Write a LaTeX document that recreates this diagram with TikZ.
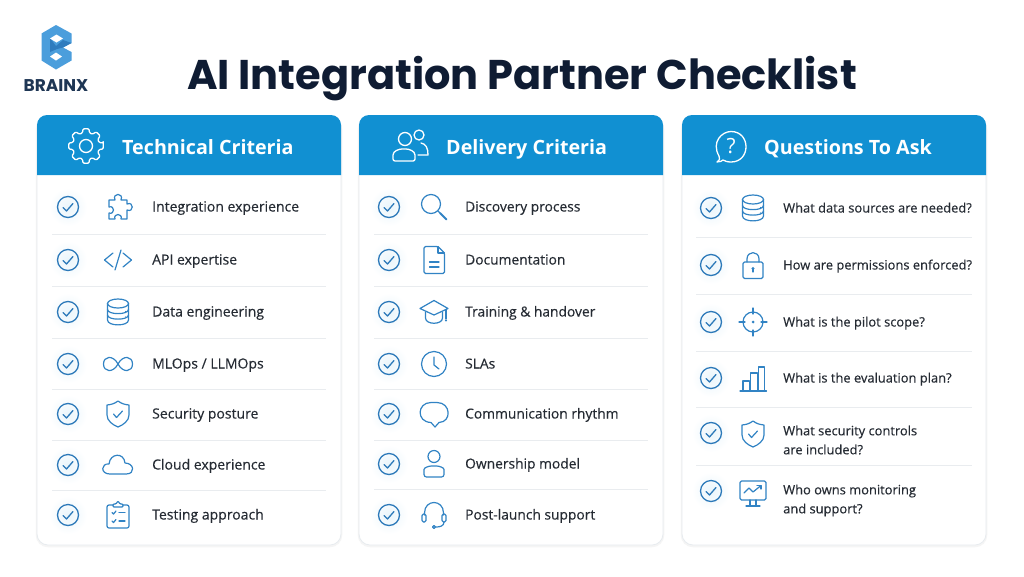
\documentclass[tikz,border=0pt]{standalone}
\usepackage{fontspec}
\setmainfont{Open Sans}
\newfontfamily\titlefont{Poppins}
\newfontfamily\rowfont[RawFeature={embolden=0.35}]{Open Sans}
\usetikzlibrary{positioning}

\definecolor{headblue}{HTML}{1190D2}
\definecolor{iconblue}{HTML}{3183C4}
\definecolor{checkblue}{HTML}{2C79B9}
\definecolor{inkdark}{HTML}{0F1C33}
\definecolor{rowink}{HTML}{252B33}
\definecolor{rulegrey}{HTML}{E9ECEF}
\definecolor{cardedge}{HTML}{E7EBEF}
\definecolor{logoblue}{HTML}{4B9EDC}
\definecolor{logodark}{HTML}{2F7CBE}
\definecolor{logoink}{HTML}{1E3654}

\tikzset{
  icon/.style={draw=iconblue,line width=1.2pt,line join=round,line cap=round},
  whiteicon/.style={draw=white,line width=1.3pt,line join=round,line cap=round},
  rowtext/.style={anchor=west,inner sep=0pt,text=rowink,font=\rowfont\fontsize{14}{20}\selectfont},
  delitext/.style={rowtext,font=\rowfont\fontsize{13.8}{20}\selectfont},
  asktext/.style={rowtext,font=\rowfont\fontsize{12.9}{19}\selectfont},
  rowsingle/.style={text height=12pt,text depth=3pt},
  headtext/.style={anchor=west,inner sep=0pt,text=white,font=\fontsize{19.7}{24}\selectfont\bfseries,text height=15pt,text depth=1pt},
  rowrule/.style={draw=rulegrey,line width=0.9pt},
  % row icons
  checkicon/.pic={
    \shade[inner color=headblue!9,outer color=white] (0,0) circle (19);
    \draw[draw=checkblue,line width=1.3pt] (0,0) circle (10.5);
    \draw[draw=checkblue,line width=1.3pt,line join=round,line cap=round] (-5,0.5) -- (-1.5,4) -- (5,-3.5);
  },
  puzzleicon/.pic={
    \draw[icon] (-9,-7) -- (-3,-7) .. controls (-6,-14.5) and (6,-14.5) .. (3,-7) -- (9,-7) -- (9,-3)
      .. controls (16,-6) and (16,6) .. (9,3) -- (9,12) -- (3,12) .. controls (5,6) and (-5,6) .. (-3,12)
      -- (-9,12) -- (-9,6) .. controls (-3,8) and (-3,-2) .. (-9,0) -- cycle;
  },
  codeicon/.pic={
    \draw[icon] (-5,-7) -- (-13.5,0) -- (-5,7);
    \draw[icon] (5,-7) -- (13.5,0) -- (5,7);
    \draw[icon] (3,-10) -- (-3,10);
  },
  dataicon/.pic={
    \draw[icon] (0,-8.5) ellipse (10.5 and 4.5);
    \draw[icon] (-10.5,-8.5) -- (-10.5,8) .. controls (-10.5,14.5) and (10.5,14.5) .. (10.5,8) -- (10.5,-8.5);
    \draw[icon] (-10.5,-2.5) .. controls (-10.5,3) and (10.5,3) .. (10.5,-2.5);
    \draw[icon] (-10.5,3) .. controls (-10.5,8.5) and (10.5,8.5) .. (10.5,3);
    \fill[iconblue] (7.5,-0.5) circle (0.7) (7.5,5) circle (0.7);
  },
  loopicon/.pic={
    \draw[icon] (0,0) .. controls (-5,-9.5) and (-14.5,-8) .. (-14.5,0) .. controls (-14.5,8) and (-5,9.5) .. (0,0)
      .. controls (5,-9.5) and (14.5,-8) .. (14.5,0) .. controls (14.5,8) and (5,9.5) .. (0,0);
  },
  shieldicon/.pic={
    \draw[icon] (0,-13) .. controls (-4,-10) and (-7,-9.5) .. (-11,-9) -- (-11,1)
      .. controls (-11,7) and (-5,11) .. (0,13) .. controls (5,11) and (11,7) .. (11,1) -- (11,-9)
      .. controls (7,-9.5) and (4,-10) .. (0,-13) -- cycle;
    \draw[icon] (-4.5,0) -- (-1.5,3.5) -- (4.5,-3);
  },
  cloudicon/.pic={
    \draw[icon] (-8,9) .. controls (-18,9) and (-17,-2) .. (-9,-1) .. controls (-8,-12) and (6,-13) .. (7,-2)
      .. controls (16,-2) and (18,9) .. (8,9) -- cycle;
  },
  clipicon/.pic={
    \draw[icon,rounded corners=2pt] (-5,-10) -- (-11,-10) -- (-11,13) -- (11,13) -- (11,-10) -- (5,-10);
    \draw[icon,rounded corners=1pt] (-5,-8) -- (-5,-11) -- (-2,-11) -- (0,-14) -- (2,-11) -- (5,-11) -- (5,-8) -- cycle;
    \draw[icon] (-6,-2.5) -- (-4.5,-1) -- (-2,-4);
    \draw[icon] (-6,6) -- (-4.5,7.5) -- (-2,4.5);
    \draw[icon] (1,-2.5) -- (7,-2.5) (1,6) -- (7,6);
  },
  searchicon/.pic={
    \draw[icon] (-3,-3) circle (9.5);
    \draw[icon] (4,4) -- (6,6);
    \draw[icon,line width=2pt] (6,6) -- (12.5,12.5);
  },
  docicon/.pic={
    \draw[icon,rounded corners=1.5pt] (-10,-13.5) -- (4,-13.5) -- (10.5,-7) -- (10.5,13.5) -- (-10,13.5) -- cycle;
    \draw[icon] (4,-13.5) -- (4,-7) -- (10.5,-7);
    \draw[icon] (-4.5,2) -- (5,2) (-4.5,7) -- (5,7);
  },
  capicon/.pic={
    \draw[icon] (0,-11.5) -- (-14,-3.5) -- (0,3) -- (14,-3.5) -- cycle;
    \draw[icon] (-8.5,0) -- (-8.5,6) .. controls (-8.5,13) and (8.5,13) .. (8.5,6) -- (8.5,0);
    \draw[icon] (12,-2.5) -- (12,7);
    \fill[iconblue] (12,8.5) circle (1.2);
  },
  clockicon/.pic={
    \draw[icon] (0,0) circle (12.5);
    \draw[icon] (0,-7) -- (0,1) -- (5,5);
  },
  bubbleicon/.pic={
    \draw[icon] (-3,8.5) .. controls (-18,8) and (-17,-11.5) .. (-3,-11.5) -- (3,-11.5)
      .. controls (17,-11.5) and (18,8) .. (5,8.5) -- (1,13) -- cycle;
  },
  personicon/.pic={
    \draw[icon] (0,-7.5) circle (6);
    \draw[icon,rounded corners=2.5pt] (-10,13) -- (-10,8) .. controls (-10,3.5) and (-5,2) .. (0,2) .. controls (5,2) and (10,3.5) .. (10,8) -- (10,13) -- cycle;
  },
  headseticon/.pic={
    \draw[icon] (-9.5,0) -- (-9.5,-2) .. controls (-9.5,-16) and (9.5,-16) .. (9.5,-2) -- (9.5,0);
    \draw[icon,rounded corners=1.5pt] (-12,-1) rectangle (-8,7);
    \draw[icon,rounded corners=1.5pt] (8,-1) rectangle (12,7);
    \draw[icon] (10,7) .. controls (10,11) and (6,12) .. (2,12);
    \draw[icon] (0,12) circle (1.5);
  },
  lockicon/.pic={
    \draw[icon,rounded corners=1.5pt] (-10,-3) rectangle (10,13.5);
    \draw[icon] (-6,-3) -- (-6,-6) .. controls (-6,-14.5) and (6,-14.5) .. (6,-6) -- (6,-3);
    \fill[iconblue] (0,3.5) circle (1.6);
    \draw[icon] (0,4) -- (0,7);
  },
  targeticon/.pic={
    \draw[icon] (0,0) circle (10);
    \draw[icon] (0,-14) -- (0,-8) (0,8) -- (0,14) (-14,0) -- (-8,0) (8,0) -- (14,0);
    \fill[iconblue] (0,0) circle (1.5);
  },
  barsicon/.pic={
    \draw[icon] (-13,13) -- (13.5,13);
    \draw[icon] (-10,13) -- (-10,3) -- (-3.6,3) -- (-3.6,13);
    \draw[icon] (-2.3,13) -- (-2.3,-5) -- (4.3,-5) -- (4.3,13);
    \draw[icon] (5.3,13) -- (5.3,-11) -- (11.3,-11) -- (11.3,13);
  },
  screenicon/.pic={
    \draw[icon,rounded corners=1.5pt] (-13,-13) rectangle (13,6);
    \draw[icon] (-9,-1) -- (-4,-6) -- (0,-2) -- (8,-8.5);
    \draw[icon] (4,-8.5) -- (8,-8.5) -- (8,-5);
    \draw[icon] (-3,6) -- (-3,12) (3,6) -- (3,12) (-7,12) -- (7,12);
  },
  % header icons
  gearicon/.pic={
    \draw[whiteicon,rounded corners=1.2pt] (-10:17.5)
      \foreach \a in {0,45,...,315}{ -- (\a+10:17.5) -- (\a+15:13.5) -- (\a+30:13.5) -- (\a+35:17.5) } -- cycle;
    \draw[whiteicon] (0,0) circle (6.5);
  },
  peopleicon/.pic={
    \draw[whiteicon] (-5,-7) circle (6.5);
    \draw[whiteicon,rounded corners=2pt] (-17,15) -- (-17,11) .. controls (-17,5) and (-11,3) .. (-6,3) .. controls (-1,3) and (5,5) .. (5,11) -- (5,15) -- cycle;
    \draw[whiteicon] (9,-11) circle (5);
    \draw[whiteicon] (11,-3) .. controls (16,-2) and (18,2) .. (18,9) -- (8,9);
  },
  helpicon/.pic={
    \draw[whiteicon] (-14,15) .. controls (-11,13) and (-11,11) .. (-12,9) .. controls (-20,-5) and (-9,-15.5) .. (0,-15.5)
      .. controls (20,-15.5) and (20,15) .. (0,15) .. controls (-4,15) and (-6,14) .. (-8,13) .. controls (-9,14) and (-11,15) .. (-14,15) -- cycle;
    \node[inner sep=0pt,text=white,font=\fontsize{21}{21}\selectfont] (helpmark) at (0,-0.5) {?};
  },
}

\begin{document}
\begin{tikzpicture}[x=1pt,y=-1pt]

\useasboundingbox (0,0) rectangle (1024,576);
\fill[white] (0,0) rectangle (1024,576);

% logo
\fill[logoblue] (56,25) -- (71.5,33.5) -- (71.5,43) -- (63,47.5) -- (71.5,52) -- (71.5,60.5) -- (56,69.5) -- (41.5,60.5) -- (41.5,33.5) -- cycle;
\fill[logodark] (50,38) -- (50,52) -- (57,49) -- (63,47.5) -- (71.5,43) -- (63,40) -- (56,46) -- cycle;
\fill[white] (56.5,34.5) -- (63,38.5) -- (56.5,42.5) -- (50,38.5) -- cycle;
\fill[white] (56,52.5) -- (62,56.5) -- (56,60.5) -- (50,56.5) -- cycle;
\node[inner sep=0pt,text=logoink,font=\titlefont\fontsize{17}{17}\selectfont\bfseries] (brand) at (56,85.5) {BRAINX};

% title
\node[inner sep=0pt,text=inkdark,font=\titlefont\fontsize{41.5}{46}\selectfont\bfseries] (title) at (522,79) {AI Integration Partner Checklist};

% cards
\foreach \cx in {37,359,682}{
  \draw[draw=black!4,line width=2.5pt,rounded corners=11pt] (\cx,118) rectangle (\cx+304,546);
  \draw[draw=cardedge,fill=white,line width=0.8pt,rounded corners=11pt] (\cx,118) rectangle (\cx+304,545);
  \fill[headblue] (\cx,175) -- (\cx,125) [rounded corners=10pt] -- (\cx,115) -- (\cx+304,115) [sharp corners] -- (\cx+304,175) -- cycle;
}

% headers
\pic at (86,146) {gearicon};
\node[headtext] (headtech) at (122,147) {Technical Criteria};
\pic at (410,146) {peopleicon};
\node[headtext] (headdeli) at (446,147) {Delivery Criteria};
\pic at (731,147) {helpicon};
\node[headtext] (headask) at (764,147) {Questions To Ask};

% first column
\foreach \yy/\ic/\txt in {207/puzzleicon/Integration experience,260/codeicon/API expertise,312/dataicon/Data engineering,364/loopicon/{MLOps / LLMOps},414/shieldicon/Security posture,465/cloudicon/Cloud experience,515/clipicon/Testing approach}{
  \pic at (68,\yy) {checkicon};
  \pic at (118,\yy) {\ic};
  \node[rowtext,rowsingle] (tech\yy) at (152,\yy) {\txt};
}
\foreach \yy in {234.5,286,338,389,440,490}{
  \draw[rowrule] (52,\yy) -- (326,\yy);
}

% second column
\foreach \yy/\ic/\txt in {207/searchicon/Discovery process,260/docicon/Documentation,312/capicon/Training \& handover,364/clockicon/SLAs,414/bubbleicon/Communication rhythm,464/personicon/Ownership model,515/headseticon/Post-launch support}{
  \pic at (389,\yy) {checkicon};
  \pic at (434,\yy) {\ic};
  \node[delitext,rowsingle] (deli\yy) at (465,\yy) {\txt};
}
\foreach \yy in {234,286,338,389,440,489}{
  \draw[rowrule] (374,\yy) -- (648,\yy);
}

% third column
\foreach \yy/\ic/\txt in {208/dataicon/What data sources are needed?,265/lockicon/How are permissions enforced?,322/targeticon/What is the pilot scope?,378/barsicon/What is the evaluation plan?}{
  \pic at (711,\yy) {checkicon};
  \pic at (753,\yy) {\ic};
  \node[asktext,rowsingle] (ask\yy) at (783,\yy) {\txt};
}
\pic at (711,433) {checkicon};
\pic at (753,434) {shieldicon};
\node[asktext,align=left] (ask433) at (783,440) {What security controls\\are included?};
\pic at (711,491) {checkicon};
\pic at (753,494) {screenicon};
\node[asktext,align=left] (ask491) at (783,500.5) {Who owns monitoring\\and support?};
\foreach \yy in {237,294,351,407,465}{
  \draw[rowrule] (696,\yy) -- (972,\yy);
}

\end{tikzpicture}
\end{document}
